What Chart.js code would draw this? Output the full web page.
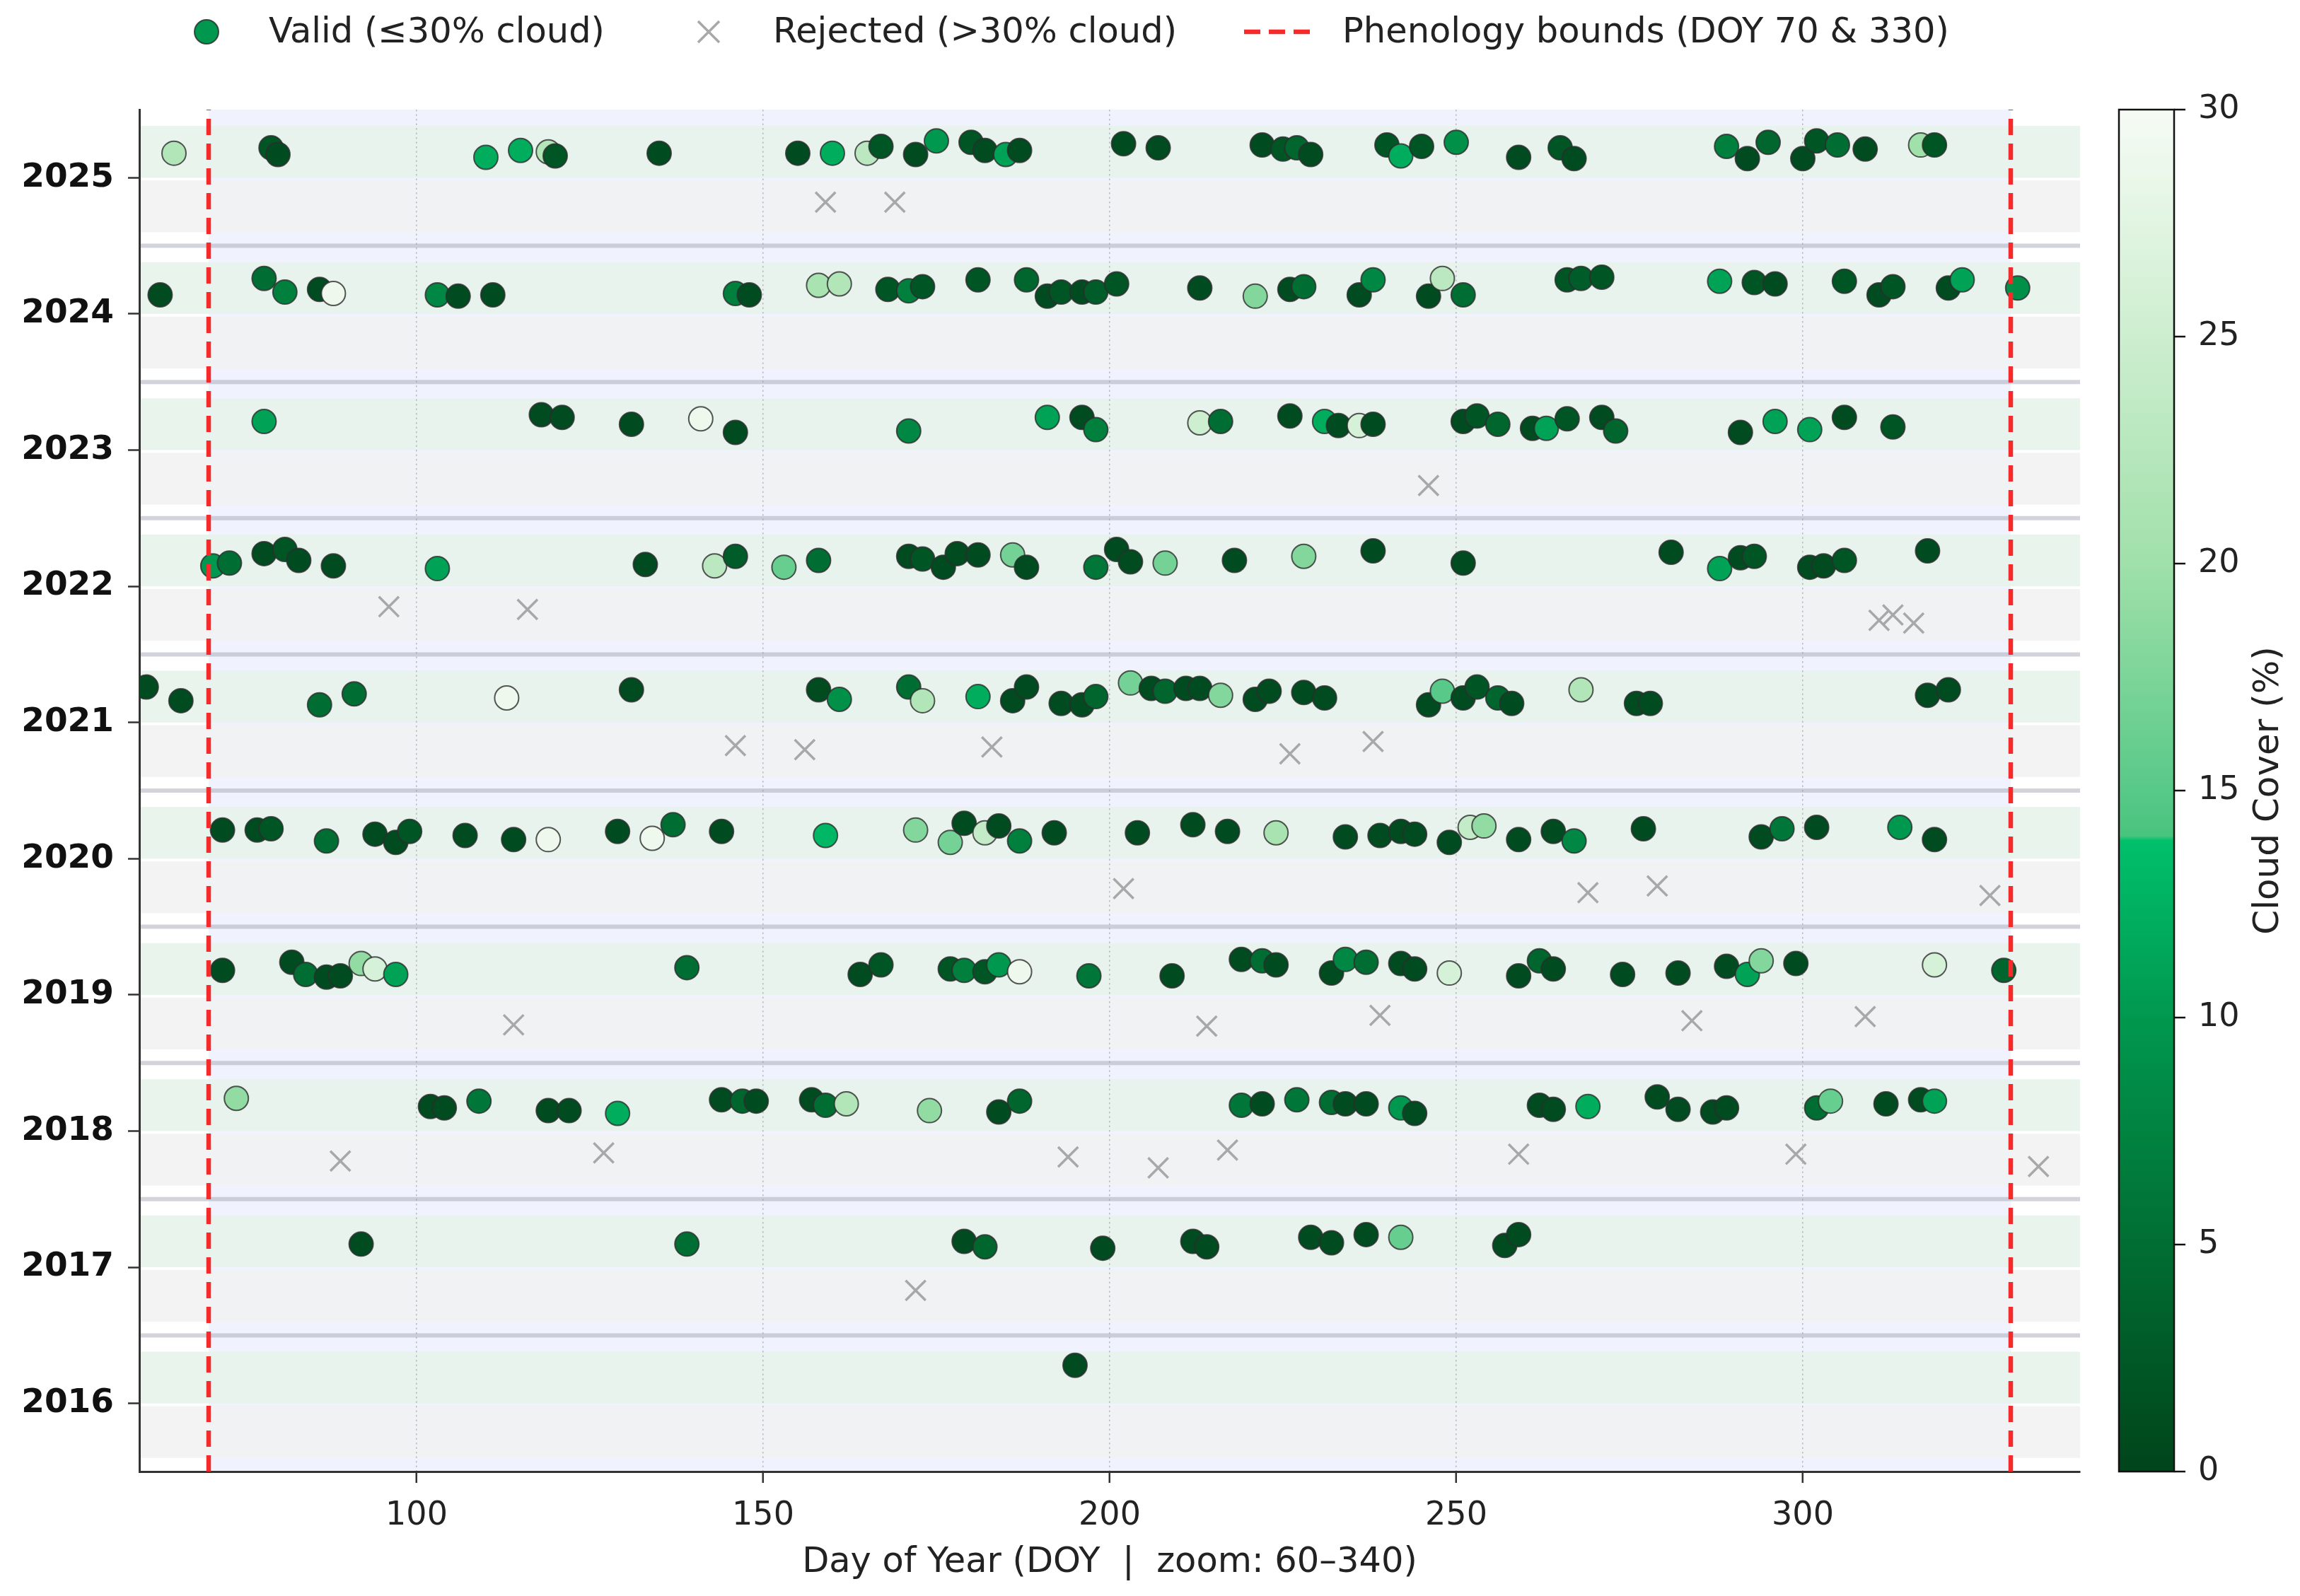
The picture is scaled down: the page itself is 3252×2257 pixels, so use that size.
<!DOCTYPE html>
<html>
<head>
<meta charset="utf-8">
<script src="https://cdn.jsdelivr.net/npm/chart.js@4.4.1/dist/chart.umd.min.js"></script>
<style>
html,body{margin:0;padding:0;background:#fff;}
#wrap{width:3252px;height:2257px;}
</style>
</head>
<body>
<div id="wrap"><canvas id="c" width="3252" height="2257"></canvas></div>
<script>
// ---------------- DATA ----------------
const xTicks = [100, 150, 200, 250, 300];
const yearTicks = [2016, 2017, 2018, 2019, 2020, 2021, 2022, 2023, 2024, 2025];
const cloudTicks = [0, 5, 10, 15, 20, 25, 30];
const phenologyBounds = [70, 330];

// valid scenes: [day of year, vertical jitter within the year row, cloud cover %]
const valid2025 = [[65,0.18,22],[79,0.22,2],[80,0.17,1],[110,0.15,12],[115,0.20,12],[119,0.19,22],[120,0.16,2],[135,0.18,1],[155,0.18,1],[160,0.18,12],[165,0.18,23],[167,0.23,2],[172,0.17,1],[175,0.27,10],[180,0.26,2],[182,0.20,1],[185,0.17,11],[187,0.20,1],[202,0.25,1],[207,0.22,1],[222,0.24,1],[225,0.21,2],[227,0.22,4],[229,0.17,1],[240,0.24,2],[242,0.16,12],[245,0.23,2],[250,0.26,9],[259,0.15,1],[265,0.22,2],[267,0.14,1],[289,0.23,7],[292,0.14,1],[295,0.26,4],[300,0.14,1],[302,0.27,2],[305,0.24,5],[309,0.21,1],[317,0.24,20],[319,0.24,2]];
const valid2024 = [[63,0.14,1],[78,0.26,5],[81,0.16,7],[86,0.18,1],[88,0.15,29],[103,0.14,8],[106,0.13,1],[111,0.14,1],[146,0.15,7],[148,0.14,1],[158,0.21,21],[161,0.22,22],[168,0.18,2],[171,0.17,7],[173,0.20,2],[181,0.25,2],[188,0.25,4],[191,0.13,1],[193,0.16,2],[196,0.16,1],[198,0.16,3],[201,0.22,2],[213,0.19,1],[221,0.13,18],[226,0.18,1],[228,0.20,5],[236,0.14,1],[238,0.25,8],[246,0.13,1],[248,0.26,23],[251,0.14,5],[266,0.25,2],[268,0.26,3],[271,0.27,2],[288,0.24,11],[293,0.23,2],[296,0.22,1],[306,0.24,2],[311,0.14,1],[313,0.20,2],[321,0.19,1],[323,0.25,11],[331,0.19,9]];
const valid2023 = [[78,0.21,11],[118,0.26,1],[121,0.24,1],[131,0.19,1],[141,0.23,29],[146,0.13,1],[171,0.14,8],[191,0.24,11],[196,0.24,1],[198,0.15,7],[213,0.20,25],[216,0.21,5],[226,0.25,1],[231,0.21,12],[233,0.18,1],[236,0.18,26],[238,0.19,1],[251,0.21,1],[253,0.25,2],[256,0.19,4],[261,0.16,1],[263,0.16,11],[266,0.23,2],[271,0.24,1],[273,0.14,4],[291,0.13,1],[296,0.21,11],[301,0.15,11],[306,0.24,1],[313,0.17,2]];
const valid2022 = [[70.6,0.15,10],[73,0.17,5],[78,0.24,1],[81,0.27,2],[83,0.19,1],[88,0.15,1],[103,0.13,11],[133,0.16,1],[143,0.15,23],[146,0.22,3],[153,0.14,16],[158,0.19,5],[171,0.22,1],[173,0.20,2],[176,0.14,1],[178,0.24,1],[181,0.23,1],[186,0.23,17],[188,0.14,1],[198,0.14,6],[201,0.27,1],[203,0.18,1],[208,0.17,17],[218,0.19,1],[228,0.22,18],[238,0.26,1],[251,0.17,1],[281,0.25,1],[288,0.13,11],[291,0.21,1],[293,0.22,2],[301,0.14,1],[303,0.15,1],[306,0.19,2],[318,0.26,1]];
const valid2021 = [[61,0.26,1],[66,0.16,1],[86,0.13,5],[91,0.21,5],[113,0.18,29],[131,0.24,1],[158,0.24,1],[161,0.17,9],[171,0.26,5],[173,0.16,22],[181,0.19,12],[186,0.16,1],[188,0.26,1],[193,0.14,1],[196,0.13,1],[198,0.19,4],[203,0.29,17],[206,0.25,1],[208,0.23,4],[211,0.25,1],[213,0.25,1],[216,0.20,18],[221,0.17,1],[223,0.23,1],[228,0.22,1],[231,0.18,1],[246,0.13,1],[248,0.23,15],[251,0.18,1],[253,0.26,2],[256,0.18,4],[258,0.14,1],[268,0.24,22],[276,0.14,1],[278,0.14,1],[318,0.20,1],[321,0.24,1]];
const valid2020 = [[72,0.21,1],[77,0.21,1],[79,0.22,2],[87,0.13,5],[94,0.18,1],[97,0.12,1],[99,0.20,2],[107,0.17,1],[114,0.14,1],[119,0.14,29],[129,0.20,1],[134,0.15,29],[137,0.25,5],[144,0.20,1],[159,0.17,13],[172,0.21,18],[177,0.12,17],[179,0.26,1],[182,0.19,24],[184,0.24,1],[187,0.13,7],[192,0.19,1],[204,0.19,1],[212,0.25,1],[217,0.20,1],[224,0.19,21],[234,0.16,1],[239,0.17,1],[242,0.20,1],[244,0.18,1],[249,0.12,1],[252,0.23,24],[254,0.24,19],[259,0.14,1],[264,0.20,1],[267,0.13,8],[277,0.22,1],[294,0.16,1],[297,0.22,6],[302,0.23,1],[314,0.23,10],[319,0.14,1]];
const valid2019 = [[72,0.18,1],[82,0.24,1],[84,0.15,5],[87,0.13,1],[89,0.14,1],[92,0.23,19],[94,0.19,26],[97,0.15,11],[139,0.20,5],[164,0.15,1],[167,0.22,2],[177,0.19,2],[179,0.18,7],[182,0.17,2],[184,0.22,10],[187,0.17,29],[197,0.14,6],[209,0.14,1],[219,0.26,1],[222,0.25,5],[224,0.22,1],[232,0.16,1],[234,0.26,8],[237,0.24,5],[242,0.23,1],[244,0.19,1],[249,0.16,26],[259,0.14,1],[262,0.25,4],[264,0.19,1],[274,0.15,1],[282,0.16,1],[289,0.21,1],[292,0.15,11],[294,0.25,18],[299,0.23,1],[319,0.22,26],[329,0.18,4]];
const valid2018 = [[74,0.24,19],[102,0.18,1],[104,0.17,1],[109,0.22,6],[119,0.15,1],[122,0.15,1],[129,0.13,12],[144,0.23,1],[147,0.22,4],[149,0.22,1],[157,0.23,1],[159,0.19,5],[162,0.20,22],[174,0.15,19],[184,0.14,1],[187,0.22,4],[219,0.19,6],[222,0.20,1],[227,0.23,6],[232,0.21,5],[234,0.20,1],[237,0.20,1],[242,0.17,10],[244,0.13,1],[262,0.19,1],[264,0.16,1],[269,0.18,12],[279,0.25,1],[282,0.16,1],[287,0.14,1],[289,0.17,1],[302,0.17,5],[304,0.22,16],[312,0.20,1],[317,0.23,1],[319,0.22,11]];
const valid2017 = [[92,0.17,1],[139,0.17,5],[179,0.19,1],[182,0.15,4],[199,0.14,1],[212,0.19,1],[214,0.15,1],[229,0.22,1],[232,0.18,1],[237,0.24,1],[242,0.22,16],[257,0.16,1],[259,0.24,1]];
const valid2016 = [[195,0.28,1]];

// rejected scenes: [day of year, vertical jitter within the year row]
const rejected2025 = [[159,-0.18],[169,-0.18]];
const rejected2024 = [];
const rejected2023 = [[246,-0.26]];
const rejected2022 = [[96,-0.15],[116,-0.17],[311,-0.25],[313,-0.21],[316,-0.27]];
const rejected2021 = [[146,-0.17],[156,-0.20],[183,-0.18],[226,-0.23],[238,-0.14]];
const rejected2020 = [[202,-0.22],[269,-0.25],[279,-0.20],[327,-0.27]];
const rejected2019 = [[114,-0.22],[214,-0.23],[239,-0.15],[284,-0.19],[309,-0.16]];
const rejected2018 = [[89,-0.22],[127,-0.16],[194,-0.19],[207,-0.27],[217,-0.14],[259,-0.17],[299,-0.17],[334,-0.26]];
const rejected2017 = [[172,-0.17]];
const rejected2016 = [];

// ---------------- BUILD ----------------
const validByYear = {2016:valid2016,2017:valid2017,2018:valid2018,2019:valid2019,2020:valid2020,2021:valid2021,2022:valid2022,2023:valid2023,2024:valid2024,2025:valid2025};
const rejectedByYear = {2016:rejected2016,2017:rejected2017,2018:rejected2018,2019:rejected2019,2020:rejected2020,2021:rejected2021,2022:rejected2022,2023:rejected2023,2024:rejected2024,2025:rejected2025};

const validPoints = [];
const rejectedPoints = [];
yearTicks.forEach(yr => {
  validByYear[yr].forEach(([d, j, c]) => validPoints.push({x: d, y: yr + j, cloud: c}));
  rejectedByYear[yr].forEach(([d, j]) => rejectedPoints.push({x: d, y: yr + j}));
});

const yMin = yearTicks[0] - 0.5, yMax = yearTicks[yearTicks.length - 1] + 0.5;

// colormap (style)
const CMAP = [[0,[0,68,27]],[5,[0,110,50]],[10,[0,152,78]],[13.9,[0,192,108]],[14.0,[72,196,126]],[15,[88,201,136]],[20,[160,224,170]],[25,[205,238,207]],[30,[246,251,245]]];
function cmapColor(v) {
  v = Math.max(0, Math.min(30, v));
  for (let i = 1; i < CMAP.length; i++) {
    if (v <= CMAP[i][0]) {
      const [a, ca] = CMAP[i-1], [b, cb] = CMAP[i];
      const t = (v - a) / (b - a);
      const c = ca.map((q, k) => Math.round(q + (cb[k] - q) * t));
      return `rgb(${c[0]},${c[1]},${c[2]})`;
    }
  }
  const c = CMAP[CMAP.length-1][1];
  return `rgb(${c[0]},${c[1]},${c[2]})`;
}

const FONT = "'DejaVu Sans', 'Liberation Sans', sans-serif";
Chart.defaults.font.family = FONT;
Chart.defaults.color = '#222';

const RED = '#f52a2a';
const DASH = [23, 12];
const CB_X0 = 2996, CB_X1 = 3074;

const decor = {
  id: 'decor',
  beforeDraw(chart) {
    const {ctx, chartArea: a, scales: {x, y}} = chart;
    ctx.save();
    ctx.fillStyle = '#fff';
    ctx.fillRect(0, 0, chart.width, chart.height);
    ctx.beginPath();
    ctx.rect(a.left, a.top, a.right - a.left, a.bottom - a.top);
    ctx.clip();
    const p0 = x.getPixelForValue(phenologyBounds[0]);
    const p1 = x.getPixelForValue(phenologyBounds[1]);
    ctx.fillStyle = 'rgba(95,125,235,0.095)';
    ctx.fillRect(p0, a.top, p1 - p0, a.bottom - a.top);
    yearTicks.forEach(yr => {
      const g0 = y.getPixelForValue(yr + 0.38), g1 = y.getPixelForValue(yr);
      ctx.fillStyle = 'rgba(229,243,233,0.88)';
      ctx.fillRect(a.left, g0, a.right - a.left, g1 - g0);
      const r0 = y.getPixelForValue(yr - 0.02), r1 = y.getPixelForValue(yr - 0.4);
      ctx.fillStyle = 'rgba(241,241,242,0.85)';
      ctx.fillRect(a.left, r0, a.right - a.left, r1 - r0);
    });
    yearTicks.slice(0, -1).forEach(yr => {
      const py = y.getPixelForValue(yr + 0.5);
      ctx.strokeStyle = 'rgba(150,152,170,0.42)';
      ctx.lineWidth = 6;
      ctx.beginPath();
      ctx.moveTo(a.left, py);
      ctx.lineTo(a.right, py);
      ctx.stroke();
    });
    ctx.restore();
  },
  afterDraw(chart) {
    const {ctx} = chart;
    const cb = chart.scales.cb;
    // colorbar
    const top = cb.getPixelForValue(30), bot = cb.getPixelForValue(0);
    const grad = ctx.createLinearGradient(0, bot, 0, top);
    CMAP.forEach(([v, c]) => grad.addColorStop(v / 30, `rgb(${c[0]},${c[1]},${c[2]})`));
    ctx.save();
    ctx.fillStyle = grad;
    ctx.fillRect(CB_X0, top, CB_X1 - CB_X0, bot - top);
    ctx.strokeStyle = '#111';
    ctx.lineWidth = 2.5;
    ctx.strokeRect(CB_X0, top, CB_X1 - CB_X0, bot - top);
    cloudTicks.forEach(v => {
      const py = cb.getPixelForValue(v);
      ctx.beginPath();
      ctx.moveTo(CB_X1, py);
      ctx.lineTo(CB_X1 + 16, py);
      ctx.stroke();
    });
    // colorbar label
    ctx.translate(3208, (top + bot) / 2);
    ctx.rotate(-Math.PI / 2);
    ctx.fillStyle = '#222';
    ctx.font = `50px ${FONT}`;
    ctx.textAlign = 'center';
    ctx.textBaseline = 'middle';
    ctx.fillText('Cloud Cover (%)', 0, 0);
    ctx.restore();

    // legend
    const ly = 47;
    ctx.save();
    ctx.font = `49.5px ${FONT}`;
    ctx.fillStyle = '#222';
    ctx.textBaseline = 'middle';
    ctx.textAlign = 'left';
    // valid
    ctx.beginPath();
    ctx.arc(292, ly - 2, 17, 0, Math.PI * 2);
    ctx.fillStyle = cmapColor(10);
    ctx.fill();
    ctx.lineWidth = 2;
    ctx.strokeStyle = 'rgba(40,40,40,0.8)';
    ctx.stroke();
    ctx.fillStyle = '#222';
    ctx.fillText(chart.data.datasets[1].label, 380, ly);
    // rejected
    ctx.strokeStyle = '#a8a8a8';
    ctx.lineWidth = 3.5;
    const h = 15;
    ctx.beginPath();
    ctx.moveTo(1002 - h, ly - 2 - h); ctx.lineTo(1002 + h, ly - 2 + h);
    ctx.moveTo(1002 - h, ly - 2 + h); ctx.lineTo(1002 + h, ly - 2 - h);
    ctx.stroke();
    ctx.fillText(chart.data.datasets[2].label, 1093, ly);
    // phenology
    ctx.strokeStyle = RED;
    ctx.lineWidth = 6.5;
    ctx.setLineDash(DASH);
    ctx.beginPath();
    ctx.moveTo(1759, ly - 2); ctx.lineTo(1856, ly - 2);
    ctx.stroke();
    ctx.setLineDash([]);
    ctx.fillText(chart.data.datasets[0].label, 1898, ly);
    ctx.restore();
  }
};

const boundDataset = (doy, label) => ({
  type: 'line',
  label,
  data: [{x: doy, y: yMin}, {x: doy, y: yMax}],
  borderColor: RED,
  borderWidth: 6.5,
  borderDash: DASH,
  pointRadius: 0,
  fill: false,
  order: 0
});

new Chart(document.getElementById('c'), {
  type: 'scatter',
  data: {
    datasets: [
      boundDataset(phenologyBounds[0], 'Phenology bounds (DOY 70 & 330)'),
      {
        label: 'Valid (≤30% cloud)',
        data: validPoints,
        backgroundColor: c => (c.raw ? cmapColor(c.raw.cloud) : '#000'),
        borderColor: 'rgba(45,45,45,0.8)',
        borderWidth: 2,
        pointRadius: 17,
        pointStyle: 'circle',
        order: 1
      },
      {
        label: 'Rejected (>30% cloud)',
        data: rejectedPoints,
        pointStyle: 'crossRot',
        pointRadius: 20,
        borderColor: '#a8a8a8',
        borderWidth: 3.5,
        backgroundColor: '#a8a8a8',
        order: 2
      },
      boundDataset(phenologyBounds[1], 'Phenology bound 330')
    ]
  },
  options: {
    responsive: false,
    devicePixelRatio: 1,
    animation: false,
    events: [],
    layout: {padding: {left: 0, right: 0, top: 155, bottom: 17}},
    plugins: {legend: {display: false}, tooltip: {enabled: false}},
    scales: {
      x: {
        type: 'linear',
        min: 60, max: 340,
        afterBuildTicks: s => { s.ticks = xTicks.map(v => ({value: v})); },
        afterFit: s => { s.height = 159; },
        grid: {color: 'rgba(150,150,165,0.6)', lineWidth: 1.5, tickLength: 16, tickColor: '#333', tickWidth: 2.5},
        border: {color: '#333', width: 3, dash: [2.5, 4]},
        ticks: {font: {size: 46}, color: '#222', padding: 19, maxRotation: 0, autoSkip: false},
        title: {display: true, text: 'Day of Year (DOY  |  zoom: 60–340)', font: {size: 49.5}, color: '#222', padding: {top: 0, bottom: 0}}
      },
      y: {
        type: 'linear',
        min: yMin, max: yMax,
        afterBuildTicks: s => { s.ticks = yearTicks.map(v => ({value: v})); },
        afterFit: s => { s.width = 197; },
        grid: {drawOnChartArea: false, tickLength: 16, tickColor: '#333', tickWidth: 2.5},
        border: {color: '#333', width: 3},
        ticks: {font: {size: 47, weight: 'bold'}, color: '#111', padding: 20, autoSkip: false, callback: v => String(v)}
      },
      cb: {
        type: 'linear',
        position: 'right',
        min: 0, max: 30,
        afterBuildTicks: s => { s.ticks = cloudTicks.map(v => ({value: v})); },
        afterFit: s => { s.width = 311; },
        grid: {drawOnChartArea: false, drawTicks: true, tickLength: 157, tickColor: 'rgba(0,0,0,0)'},
        border: {display: false},
        ticks: {font: {size: 46}, color: '#222', padding: 10, autoSkip: false, callback: v => String(v)}
      }
    }
  },
  plugins: [decor]
});
</script>
</body>
</html>
